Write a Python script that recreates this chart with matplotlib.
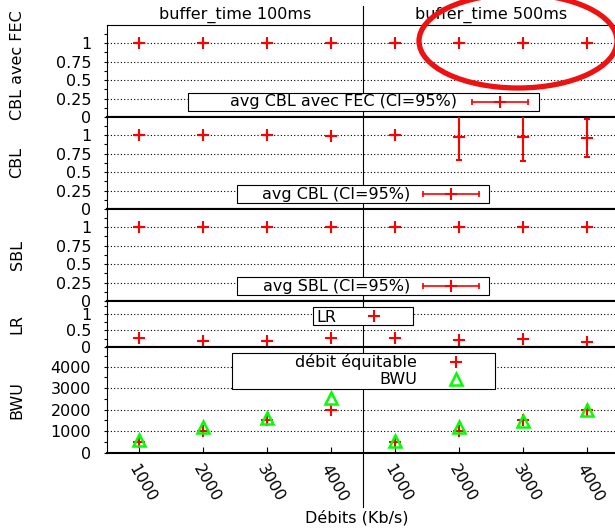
import matplotlib
matplotlib.use('Agg')
import matplotlib.pyplot as plt
import matplotlib.transforms as mtransforms
from matplotlib.patches import Rectangle, Ellipse
from matplotlib.lines import Line2D
from matplotlib.ticker import MultipleLocator
import numpy as np

plt.rcParams['font.family'] = ['DejaVu Sans']
plt.rcParams['font.size'] = 11.5

# --- donnees ---
rates = ['1000', '2000', '3000', '4000']
buffers = ['buffer_time 100ms', 'buffer_time 500ms']

cbl_fec = [1, 1, 1, 1, 1, 1, 1, 1]
cbl_fec_err = [0, 0, 0, 0, 0, 0, 0, 0]
cbl = [1, 1, 1, 0.99, 1, 0.97, 0.97, 0.96]
cbl_err = [0, 0, 0, 0, 0, 0.31, 0.32, 0.26]
sbl = [1, 1, 1, 1, 1, 1, 1, 1]
sbl_err = [0, 0, 0, 0, 0, 0, 0, 0]
lr = [0.27, 0.17, 0.18, 0.26, 0.26, 0.20, 0.23, 0.13]
fair = [500, 1000, 1500, 2000, 500, 1000, 1500, 2000]
bwu = [590, 1210, 1600, 2540, 560, 1210, 1480, 2000]

W, H = 615, 528
fig = plt.figure(figsize=(W / 100, H / 100), dpi=100)

xpos = np.arange(len(cbl)) + 0.5
xlabels = rates * len(buffers)
RED = '#ff0000'
GREEN = '#00ff00'


def px(x, y):
    return x / W, 1 - y / H


# panneaux (haut, bas en pixels)
panels = [(25, 117), (117, 209), (209, 301), (301, 346.7), (346.7, 452.7)]
left = 107
axes = []
for top, bot in panels:
    ax = fig.add_axes([left / W, 1 - bot / H, (W - left) / W, (bot - top) / H])
    ax.set_xlim(0, (W - left) / 64)
    ax.spines['right'].set_visible(False)
    ax.spines['left'].set_linewidth(0.8)
    ax.spines['top'].set_linewidth(1.5)
    ax.spines['bottom'].set_linewidth(1.5)
    ax.yaxis.grid(True, which='major', linestyle=(0, (1, 2)), color='black', lw=0.8)
    ax.set_axisbelow(True)
    ax.tick_params(axis='y', which='both', direction='out', length=2.5, width=0.8, pad=9)
    ax.tick_params(axis='x', which='both', bottom=False, labelbottom=False)
    axes.append(ax)
ax1, ax2, ax3, ax4, ax5 = axes
ax1.spines['top'].set_linewidth(0.8)

prob_ticks = [0, 0.25, 0.5, 0.75, 1]
prob_labels = ['0', '0.25', '0.5', '0.75', '1']


def errplot(ax, vals, errs):
    ax.errorbar(xpos, vals, yerr=errs, fmt='+', color=RED, ms=8.5, mew=1.5,
                elinewidth=1.5, capsize=2.5, capthick=1.5, zorder=3)


for ax, vals, errs, lab in [(ax1, cbl_fec, cbl_fec_err, 'CBL avec FEC'),
                            (ax2, cbl, cbl_err, 'CBL'),
                            (ax3, sbl, sbl_err, 'SBL')]:
    errplot(ax, vals, errs)
    ax.set_ylim(0, 1.245)
    ax.set_yticks(prob_ticks, prob_labels)
    ax.yaxis.set_minor_locator(MultipleLocator(0.125))
    ax.set_ylabel(lab)

ax4.plot(xpos, lr, '+', color=RED, ms=8.5, mew=1.5, zorder=3)
ax4.set_ylim(0, 1.4)
ax4.set_yticks([0, 0.5, 1], ['0', '0.5', '1'])
ax4.yaxis.set_minor_locator(MultipleLocator(0.25))
ax4.set_ylabel('LR')

ax5.plot(xpos, fair, '+', color=RED, ms=8.5, mew=1.5, zorder=3)
ax5.plot(xpos, bwu, '^', color=GREEN, mfc='none', ms=8, mew=1.8, zorder=4)
ax5.set_ylim(0, 4930)
ax5.set_yticks([0, 1000, 2000, 3000, 4000])
ax5.yaxis.set_minor_locator(MultipleLocator(500))
ax5.set_ylabel('BWU')
ax5.tick_params(axis='x', which='major', bottom=True, labelbottom=True,
                direction='in', length=4.5, width=0.8, pad=7)
ax5.set_xticks(xpos, xlabels)
plt.setp(ax5.get_xticklabels(), rotation=-60, ha='left', va='top',
         rotation_mode='anchor')
ax5.set_xlabel('Débits (Kb/s)')
ax5.xaxis.label.set_va('center')
ax5.xaxis.set_label_coords(0.492, -0.616)

for ax in axes:
    ax.yaxis.label.set_va('center')
    ax.yaxis.set_label_coords(-0.177, 0.5)
ax1.yaxis.set_label_coords(-0.177, 0.56)

# titres des deux groupes
tr = mtransforms.blended_transform_factory(ax1.transData, ax1.transAxes)
for i, t in enumerate(buffers):
    ax1.text(2 + 4 * i, 1.109, t, transform=tr, ha='center', va='center')

# separation verticale entre les deux groupes
trv = mtransforms.blended_transform_factory(ax5.transData, fig.transFigure)
fig.add_artist(Line2D([4, 4], [1 - 6 / H, 1 - 507 / H], transform=trv,
                      color='black', lw=0.8, zorder=2))


# --- legendes style gnuplot ---
def key_box(x0, y0, x1, y1):
    fig.add_artist(Rectangle(px(x0, y1), (x1 - x0) / W, (y1 - y0) / H,
                             transform=fig.transFigure, facecolor='white',
                             edgecolor='black', lw=0.8, zorder=5))


def key_text(xr, y, s):
    fig.text(*px(xr, y), s, ha='right', va='center', zorder=6)


def key_errbar(xc, y):
    (xa, ya), (xb, _) = px(xc - 28, y), px(xc + 28, y)
    fig.add_artist(Line2D([xa, xb], [ya, ya], transform=fig.transFigure,
                          color=RED, lw=1.2, marker='|', ms=4, mew=1.2, zorder=6))
    xm, ym = px(xc, y)
    fig.add_artist(Line2D([xm], [ym], transform=fig.transFigure, color=RED,
                          marker='+', ms=8.5, mew=1.5, zorder=6))


def key_marker(xc, y, m, **kw):
    xm, ym = px(xc, y)
    fig.add_artist(Line2D([xm], [ym], transform=fig.transFigure, marker=m,
                          linestyle='none', zorder=6, **kw))


key_box(188, 93, 539, 111)
key_text(457, 102, 'avg CBL avec FEC (CI=95%)')
key_errbar(500, 102)

key_box(237, 185, 489, 203)
key_text(410, 194, 'avg CBL (CI=95%)')
key_errbar(451, 194)

key_box(237, 277, 489, 295)
key_text(410, 286, 'avg SBL (CI=95%)')
key_errbar(451, 286)

key_box(313, 307, 413, 325)
key_text(336, 317, 'LR')
key_marker(374, 316, '+', color=RED, ms=8.5, mew=1.5)

key_box(232, 352.7, 495, 389)
key_text(417, 362.5, 'débit équitable')
key_marker(456, 361.7, '+', color=RED, ms=8.5, mew=1.5)
key_text(417, 379.5, 'BWU')
key_marker(456, 379, '^', color=GREEN, mfc='none', ms=8, mew=1.8)

# annotation a main levee (ellipse rouge autour des points 500ms)
ex, ey = px(518, 41)
fig.add_artist(Ellipse((ex, ey), 198 / W, 94 / H, transform=fig.transFigure,
                       facecolor='none', edgecolor='#ee1111', lw=3.8, zorder=7))

fig.savefig('out.png', dpi=100)
